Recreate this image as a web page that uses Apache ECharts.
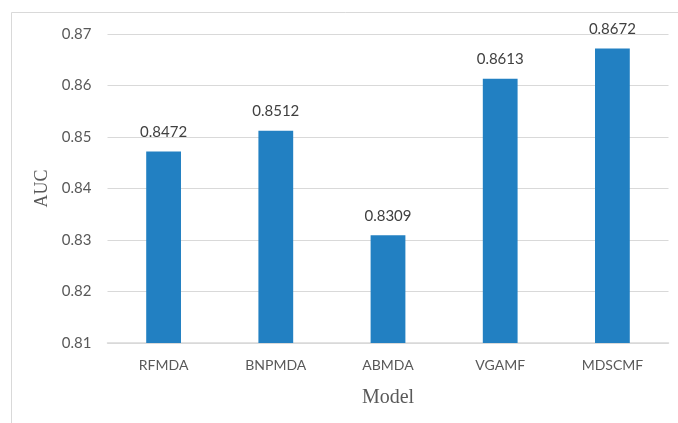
<!DOCTYPE html>
<html>
<head>
<meta charset="utf-8">
<script src="https://cdn.jsdelivr.net/npm/echarts@6/dist/echarts.min.js"></script>
<style>
  html, body { margin: 0; padding: 0; background: #fff; }
  #chart { width: 678px; height: 423px; }
</style>
</head>
<body>
<div id="chart"></div>
<script>
// AUC per model
const models = ['RFMDA', 'BNPMDA', 'ABMDA', 'VGAMF', 'MDSCMF'];
const aucValues = [0.8472, 0.8512, 0.8309, 0.8613, 0.8672];
const yTicks = [0.81, 0.82, 0.83, 0.84, 0.85, 0.86, 0.87];

const chart = echarts.init(document.getElementById('chart'), null, { renderer: 'canvas' });

const labelFont = 'Lato, "Open Sans", "Liberation Sans", sans-serif';
const titleFont = '"Liberation Serif", "DejaVu Serif", serif';

chart.setOption({
  backgroundColor: '#ffffff',
  animation: false,
  graphic: [{
    type: 'rect',
    shape: { x: 11.5, y: 12.5, width: 720, height: 500 },
    style: { fill: 'none', stroke: '#d9d9d9', lineWidth: 1 },
    silent: true
  }],
  grid: { left: 107.5, right: 9.5, top: 34, bottom: 80 },
  xAxis: {
    type: 'category',
    data: models,
    name: 'Model',
    nameLocation: 'middle',
    nameGap: 45,
    nameTextStyle: { fontFamily: titleFont, fontSize: 20, color: '#595959' },
    axisLine: { show: true, lineStyle: { color: '#d9d9d9', width: 1.5 } },
    axisTick: { show: false },
    axisLabel: { fontFamily: labelFont, fontSize: 14, color: '#595959', margin: 15 }
  },
  yAxis: {
    type: 'value',
    min: yTicks[0],
    max: yTicks[yTicks.length - 1],
    interval: 0.01,
    name: 'AUC',
    nameLocation: 'middle',
    nameGap: 44,
    nameTextStyle: { fontFamily: titleFont, fontSize: 18, color: '#595959' },
    axisLine: { show: false },
    axisTick: { show: false },
    splitLine: { lineStyle: { color: '#d9d9d9', width: 1 } },
    axisLabel: {
      fontFamily: labelFont, fontSize: 15, color: '#595959', margin: 16,
      formatter: v => {
        const t = yTicks.find(x => Math.abs(x - v) < 1e-9);
        return t !== undefined ? t.toFixed(2) : '';
      }
    }
  },
  series: [{
    type: 'bar',
    data: aucValues,
    barWidth: '31%',
    itemStyle: { color: '#2280c2' },
    label: {
      show: true,
      position: 'top',
      distance: 12,
      fontFamily: labelFont,
      fontSize: 15,
      color: '#404040',
      formatter: p => p.value.toFixed(4)
    }
  }]
});
</script>
</body>
</html>
